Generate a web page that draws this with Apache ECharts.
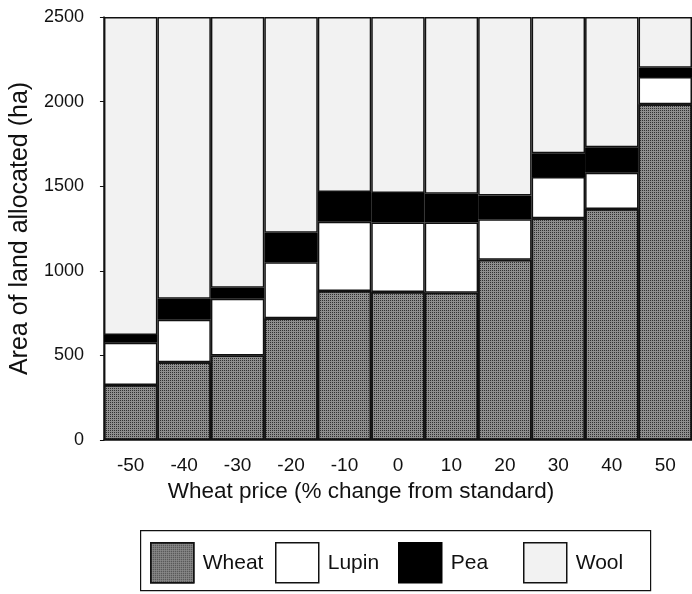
<!DOCTYPE html>
<html>
<head>
<meta charset="utf-8">
<script src="https://cdn.jsdelivr.net/npm/echarts@6/dist/echarts.min.js"></script>
<style>
html,body{margin:0;padding:0;background:#fff;}
#c{width:692px;height:594px;}
</style>
</head>
<body>
<div id="c"></div>
<script>
const categories = ['-50','-40','-30','-20','-10','0','10','20','30','40','50'];
const wheat = [325, 460, 500, 720, 880, 875, 870, 1065, 1310, 1365, 1985];
const lupin = [250, 250, 335, 330, 410, 410, 415, 240, 245, 215, 160];
const pea   = [45, 125, 65, 175, 175, 175, 170, 140, 140, 150, 55];
const wool  = [1880, 1665, 1600, 1275, 1035, 1040, 1045, 1055, 805, 770, 300];
const yTicks = [0, 500, 1000, 1500, 2000, 2500];
const seriesNames = ['Wheat', 'Lupin', 'Pea', 'Wool'];

const font = 'Liberation Sans, Arial, sans-serif';
const chart = echarts.init(document.getElementById('c'), null, {renderer:'canvas'});

const wheatStyle = {
  color: '#8e8e8e',
  borderColor: '#111', borderWidth: 1.5,
  decal: { symbol: 'rect', symbolSize: 1, dashArrayX: [1, 1], dashArrayY: [1, 1], color: 'rgba(25,25,25,0.8)' }
};
const lupinStyle = { color: '#ffffff', borderColor: '#111', borderWidth: 1.5 };
const peaStyle = { color: '#000000', borderColor: '#000', borderWidth: 1.5 };
const woolStyle = { color: '#f2f2f2', borderColor: '#111', borderWidth: 1.5 };
const styles = [wheatStyle, lupinStyle, peaStyle, woolStyle];
const legendLefts = [150, 275, 398, 523];

function mk(name, data, style) {
  return { name, type: 'bar', stack: 'land', data, barCategoryGap: '0%', itemStyle: style, emphasis: {disabled: true} };
}

chart.setOption({
  animation: false,
  backgroundColor: '#fff',
  aria: { enabled: false, decal: { show: false } },
  grid: { left: 103, right: 0, top: 17, bottom: 154 },
  xAxis: {
    type: 'category', data: categories,
    axisLine: { show: true, lineStyle: { color: '#111', width: 1.5 } },
    axisTick: { show: false },
    axisLabel: { color: '#111', fontSize: 19, fontFamily: font, margin: 16 },
    name: 'Wheat price (% change from standard)', nameLocation: 'middle', nameGap: 37,
    nameTextStyle: { color: '#111', fontSize: 22.5, fontFamily: font, padding: [0, 74, 0, 0] }
  },
  yAxis: {
    type: 'value', min: 0, max: 2500, interval: 500,
    axisLine: { show: true, lineStyle: { color: '#111', width: 1.5 } },
    axisTick: { show: true, length: 4, lineStyle: { color: '#111' } },
    splitLine: { show: false },
    axisLabel: { color: '#111', fontSize: 18, fontFamily: font, margin: 20,
      formatter: v => yTicks.indexOf(v) >= 0 ? String(v) : '' },
    name: 'Area of land allocated (ha)', nameLocation: 'middle', nameGap: 66, nameRotate: 90,
    nameTextStyle: { color: '#111', fontSize: 25, fontFamily: font }
  },
  graphic: [{
    type: 'rect', left: 140, top: 530, z: -1,
    shape: { width: 510, height: 60 },
    style: { fill: 'transparent', stroke: '#111', lineWidth: 1.2 }
  }],
  legend: seriesNames.map((n, i) => ({
    left: legendLefts[i], top: 542, padding: 0,
    itemWidth: 43, itemHeight: 40, itemGap: 0,
    textStyle: { color: '#111', fontSize: 21, fontFamily: font, padding: [0, 0, 0, 4] },
    data: [{ name: n, icon: 'rect', itemStyle: styles[i] }]
  })),
  series: seriesNames.map((n, i) => mk(n, [wheat, lupin, pea, wool][i], styles[i]))
});
</script>
</body>
</html>
